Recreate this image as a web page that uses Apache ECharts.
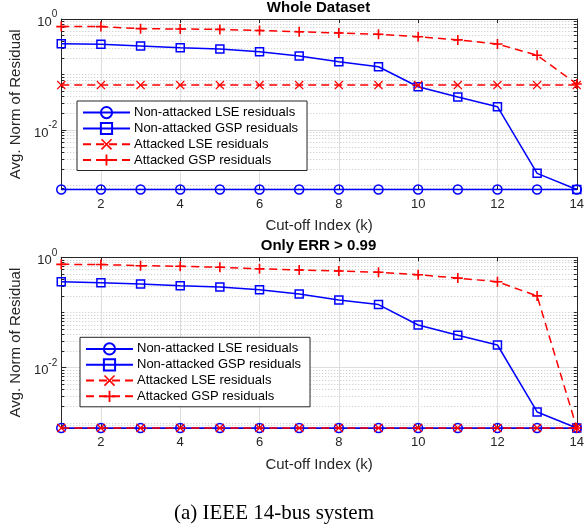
<!DOCTYPE html>
<html><head><meta charset="utf-8">
<script src="https://cdn.jsdelivr.net/npm/echarts@6/dist/echarts.min.js"></script>
<style>html,body{margin:0;padding:0;background:#fff}#c{width:587px;height:531px}</style>
</head><body><div id="c"></div>
<script>
// ---------- data ----------
const kValues = [1,2,3,4,5,6,7,8,9,10,11,12,13,14];
const xTickValues = [2,4,6,8,10,12,14];
const yMajorTicks = [0.01, 1];
const seriesNames = ['Non-attacked LSE residuals','Non-attacked GSP residuals','Attacked LSE residuals','Attacked GSP residuals'];
const titles = ['Whole Dataset', 'Only ERR > 0.99'];
const caption = '(a) IEEE 14-bus system';
const xName = 'Cut-off Index (k)';
const yName = 'Avg. Norm of Residual';

// Whole dataset
const topNonAttLSE = [0.00085,0.00085,0.00085,0.00085,0.00085,0.00085,0.00085,0.00085,0.00085,0.00085,0.00085,0.00085,0.00085,0.00085];
const topNonAttGSP = [0.359,0.350,0.326,0.304,0.288,0.258,0.216,0.170,0.138,0.0603,0.0393,0.0263,0.00166,0.00085];
const topAttLSE    = [0.0647,0.0647,0.0647,0.0647,0.0647,0.0647,0.0647,0.0647,0.0647,0.0647,0.0647,0.0647,0.0647,0.0647];
const topAttGSP    = [0.73,0.73,0.67,0.66,0.65,0.62,0.59,0.56,0.53,0.48,0.42,0.355,0.222,0.0675];
// Only ERR > 0.99
const botNonAttLSE = [0.00081,0.00081,0.00081,0.00081,0.00081,0.00081,0.00081,0.00081,0.00081,0.00081,0.00081,0.00081,0.00081,0.00081];
const botNonAttGSP = [0.360,0.347,0.328,0.306,0.290,0.259,0.216,0.169,0.139,0.0594,0.0386,0.0258,0.00158,0.00081];
const botAttLSE    = [0.00081,0.00081,0.00081,0.00081,0.00081,0.00081,0.00081,0.00081,0.00081,0.00081,0.00081,0.00081,0.00081,0.00081];
const botAttGSP    = [0.746,0.740,0.705,0.687,0.659,0.620,0.590,0.565,0.535,0.484,0.420,0.360,0.200,0.00081];
const yMins = [0.00085, 0.00081];
const yMax = 1;

// ---------- styling / construction ----------
const FONT = 'Liberation Sans';
const AX = '#262626';
const BLUE = '#0000ff', RED = '#ff0000';
const PLUS = 'path://M4.2,0 L5.8,0 L5.8,4.2 L10,4.2 L10,5.8 L5.8,5.8 L5.8,10 L4.2,10 L4.2,5.8 L0,5.8 L0,4.2 L4.2,4.2 Z';
const CROSS = 'path://M0,1 L1,0 L5,4 L9,0 L10,1 L6,5 L10,9 L9,10 L5,6 L1,10 L0,9 L4,5 Z';

function minorTicks(min) {
  const out = [];
  for (let e = -4; e <= 0; e++) {
    for (let m = 1; m <= 9; m++) {
      const v = m * Math.pow(10, e);
      const isMajor = (m === 1 && (e === 0 || e === -2));
      if (!isMajor && v >= min && v <= 1) out.push(+v.toPrecision(3));
    }
  }
  return out;
}

const grids = [
  {left: 58, right: 8, top: 19, height: 170.5},
  {left: 58, right: 8, top: 257.3, height: 170.7}
];
const xAxes = [], yAxes = [], series = [], titleArr = [], legends = [];

const dataSets = [
  [topNonAttLSE, topNonAttGSP, topAttLSE, topAttGSP],
  [botNonAttLSE, botNonAttGSP, botAttLSE, botAttGSP]
];
const legendPos = [{left: 77, top: 101}, {left: 80, top: 337.3}];
const titleTops = [0.5, 238.5];

function seriesStyle(idx) {
  if (idx === 0) return {symbol: 'circle', symbolSize: 9, itemStyle: {color: 'rgba(0,0,0,0)', borderColor: BLUE, borderWidth: 1.5}, lineStyle: {color: BLUE, width: 1.5, type: 'solid'}};
  if (idx === 1) return {symbol: 'rect', symbolSize: 8, itemStyle: {color: 'rgba(0,0,0,0)', borderColor: BLUE, borderWidth: 1.5}, lineStyle: {color: BLUE, width: 1.5, type: 'solid'}};
  if (idx === 2) return {symbol: CROSS, symbolSize: 9, itemStyle: {color: RED, borderWidth: 0}, lineStyle: {color: RED, width: 1.5, type: [8, 5]}};
  return {symbol: PLUS, symbolSize: 10, itemStyle: {color: RED, borderWidth: 0}, lineStyle: {color: RED, width: 1.5, type: [8, 5]}};
}

for (let g = 0; g < 2; g++) {
  const yMin = yMins[g];
  const minors = minorTicks(yMin);
  const allY = minors.concat(yMajorTicks).sort((a, b) => a - b);
  // bottom x axis
  xAxes.push({
    gridIndex: g, type: 'value', position: 'bottom', min: 1, max: 14,
    name: xName, nameLocation: 'middle', nameGap: 29,
    nameTextStyle: {fontFamily: FONT, fontSize: 15, color: AX},
    axisLine: {show: true, onZero: false, lineStyle: {color: AX, width: 1}},
    axisTick: {show: true, inside: true, length: 4, customValues: xTickValues, lineStyle: {color: AX}},
    axisLabel: {customValues: xTickValues, fontFamily: FONT, fontSize: 13, color: AX, margin: 8},
    splitLine: {show: true, lineStyle: {color: '#dedede', width: 1}}
  });
  // top x axis (box)
  xAxes.push({
    gridIndex: g, type: 'value', position: 'top', min: 1, max: 14,
    axisLine: {show: true, onZero: false, lineStyle: {color: AX, width: 1}},
    axisTick: {show: true, inside: true, length: 4, customValues: xTickValues, lineStyle: {color: AX}},
    axisLabel: {show: false}, splitLine: {show: false}
  });
  // main left log axis
  yAxes.push({
    gridIndex: g, type: 'log', logBase: 10, position: 'left', min: yMin, max: yMax,
    name: yName, nameLocation: 'middle', nameGap: 37,
    nameTextStyle: {fontFamily: FONT, fontSize: 15, color: AX},
    axisLine: {show: true, onZero: false, lineStyle: {color: AX, width: 1}},
    axisTick: {show: true, inside: true, length: 5, customValues: yMajorTicks, lineStyle: {color: AX}},
    axisLabel: {
      customValues: yMajorTicks, margin: 4,
      formatter: v => '{b|10}{s|' + Math.round(Math.log10(v)) + '}',
      rich: {
        b: {fontFamily: FONT, fontSize: 13, color: AX, lineHeight: 19, verticalAlign: 'bottom'},
        s: {fontFamily: FONT, fontSize: 10, color: AX, verticalAlign: 'top'}
      }
    },
    splitLine: {show: true, lineStyle: {color: '#dedede', width: 1}}
  });
  // minor left log axis (dotted minor grid)
  yAxes.push({
    gridIndex: g, type: 'log', logBase: 10, position: 'left', min: yMin, max: yMax,
    axisLine: {show: false},
    axisTick: {show: true, inside: true, length: 3, customValues: minors, lineStyle: {color: AX}},
    axisLabel: {show: false, customValues: minors},
    splitLine: {show: true, lineStyle: {color: '#c6c6c6', width: 1, type: [1, 2]}}
  });
  // right log axis (box)
  yAxes.push({
    gridIndex: g, type: 'log', logBase: 10, position: 'right', min: yMin, max: yMax,
    axisLine: {show: true, onZero: false, lineStyle: {color: AX, width: 1}},
    axisTick: {show: true, inside: true, length: 3, customValues: allY, lineStyle: {color: AX}},
    axisLabel: {show: false, customValues: allY}, splitLine: {show: false}
  });

  for (let s = 0; s < 4; s++) {
    const st = seriesStyle(s);
    series.push(Object.assign({
      name: seriesNames[s], type: 'line', xAxisIndex: g * 2, yAxisIndex: g * 3,
      data: kValues.map((k, i) => [k, dataSets[g][s][i]]),
      clip: false, animation: false, z: 3 + s, emphasis: {disabled: true}
    }, st));
  }

  titleArr.push({
    text: titles[g], left: 318.5, top: titleTops[g], textAlign: 'center', padding: 0,
    textStyle: {fontFamily: FONT, fontSize: 15, fontWeight: 'bold', color: '#000'}
  });

  legends.push({
    data: seriesNames, orient: 'vertical', left: legendPos[g].left, top: legendPos[g].top,
    itemWidth: 47, itemHeight: 14, itemGap: 2.7,
    padding: [5, 9, 4, 5], borderColor: AX, borderWidth: 1, backgroundColor: '#fff',
    textStyle: {fontFamily: FONT, fontSize: 13, color: '#000', padding: [0, 0, 0, -1]},
    selectedMode: false, z: 10
  });
}

titleArr.push({
  text: caption, left: 274, top: 503, textAlign: 'center', padding: 0,
  textStyle: {fontFamily: 'Liberation Serif', fontSize: 21, fontWeight: 'normal', color: '#000'}
});

const chart = echarts.init(document.getElementById('c'), null, {renderer: 'canvas'});
chart.setOption({
  animation: false,
  backgroundColor: '#fff',
  title: titleArr,
  legend: legends,
  grid: grids,
  xAxis: xAxes,
  yAxis: yAxes,
  series: series
});
</script></body></html>
